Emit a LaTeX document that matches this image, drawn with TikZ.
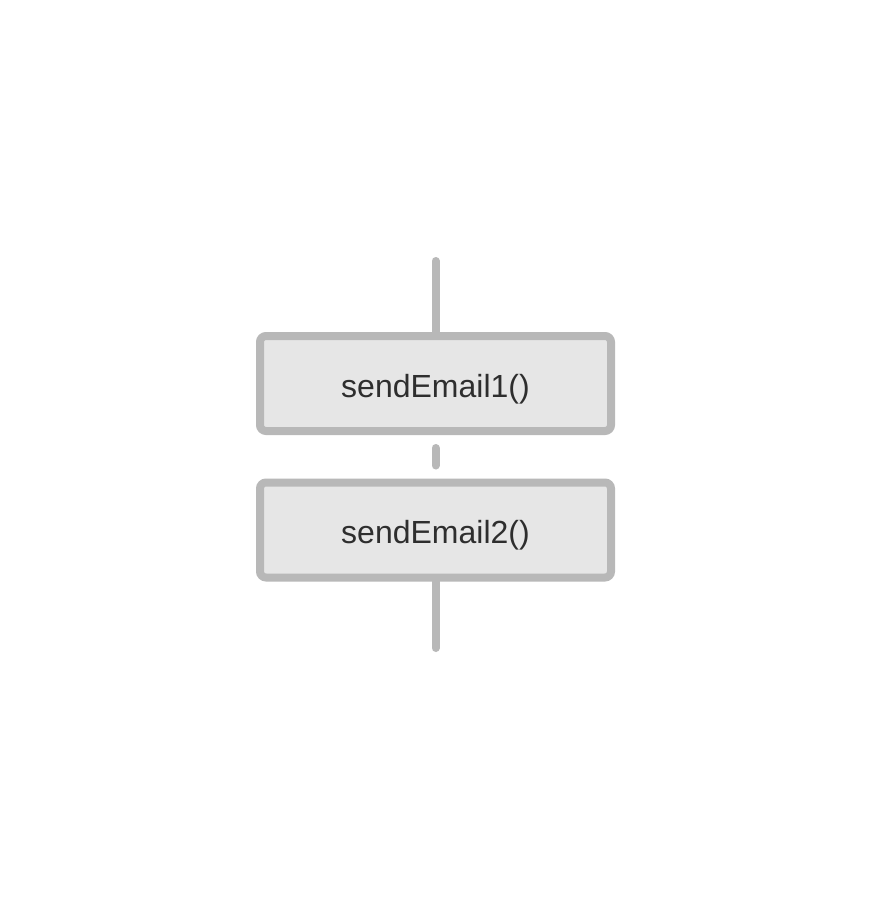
\documentclass[tikz,border=0pt]{standalone}
\usepackage{fontspec}
\setmainfont{Liberation Sans}
\usepackage{xcolor}
\usepackage{tikz}
\usetikzlibrary{arrows.meta, positioning}
\definecolor{boxfill}{HTML}{E6E6E6}
\definecolor{boxline}{HTML}{B8B8B8}
\definecolor{boxtext}{HTML}{2E2E2E}

\begin{document}
\begin{tikzpicture}[x=1pt, y=-1pt,
    callbox/.style={draw=boxline, fill=boxfill, line width=8pt, rounded corners=6pt,
        minimum width=351pt, minimum height=95pt, inner sep=0pt,
        text height=27pt, text depth=0pt,
        text=boxtext, font=\fontsize{32}{36}\selectfont},
    wire/.style={draw=boxline, line width=8pt, line cap=round}]
    \useasboundingbox[fill=white] (0,0) rectangle (872,909);
    \node[callbox] (email1) at (435.5,383.5) {sendEmail1()};
    \node[callbox] (email2) at (435.5,530) {sendEmail2()};
    \coordinate (top) at (435.5,261);
    \coordinate (bottom) at (435.5,648);
    \draw[wire] (top) -- (email1.north) ;
    \draw[wire, shorten <=13pt, shorten >=13pt] (email1) -- (email2) ;
    \draw[wire] (email2.south) -- (bottom) ;
\end{tikzpicture}
\end{document}
